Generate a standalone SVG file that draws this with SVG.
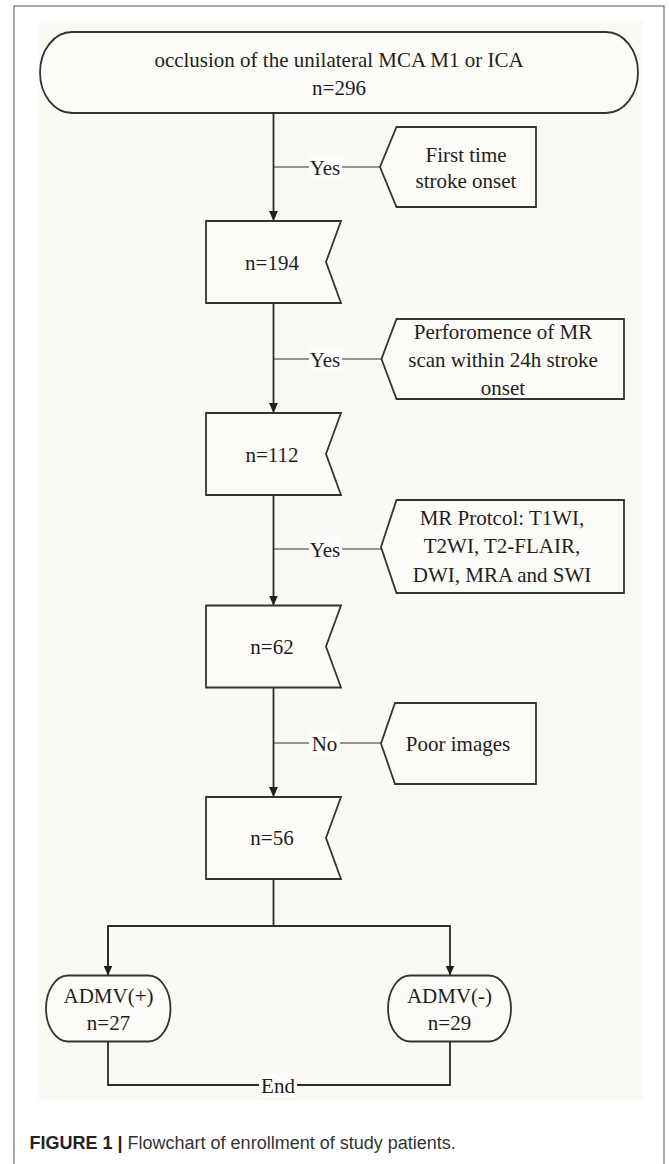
<svg xmlns="http://www.w3.org/2000/svg" width="669" height="1164" viewBox="0 0 669 1164">
<style>
.node{fill:#fcfbf7;stroke:#333;stroke-width:1.8}
.t{font-family:"Liberation Serif","Times New Roman",serif;font-size:21px;fill:#1e1e1e;text-anchor:middle}
.edge{fill:none;stroke:#2a2a2a;stroke-width:1.8}
.thin{fill:none;stroke:#333;stroke-width:1.2}
.lbg{fill:#fdfcfa}
.cap{font-family:"Liberation Sans",Arial,sans-serif;font-size:18px;fill:#333}
</style>
<defs>
<marker id="arr" markerUnits="userSpaceOnUse" markerWidth="10" markerHeight="10" refX="10" refY="4.5" orient="auto">
<path d="M0,0 L10,4.5 L0,9 z" fill="#1e1e1e"/>
</marker>
</defs>
<rect x="0" y="0" width="669" height="1164" fill="#ffffff"/>
<rect x="14" y="6" width="650" height="1180" fill="#ffffff" stroke="#7a7a7a" stroke-width="1.3"/>
<rect x="38.5" y="20.5" width="604" height="1080" fill="#fbf9f4"/>

<g id="connectors">
<line class="edge" x1="273.5" y1="113" x2="273.5" y2="221" marker-end="url(#arr)"/>
<line class="edge" x1="273.5" y1="303" x2="273.5" y2="413" marker-end="url(#arr)"/>
<line class="edge" x1="273.5" y1="495" x2="273.5" y2="605.5" marker-end="url(#arr)"/>
<line class="edge" x1="273.5" y1="687" x2="273.5" y2="797" marker-end="url(#arr)"/>
<polyline class="edge" points="273.5,879 273.5,926"/>
<polyline class="edge" points="108,975.5 108,926 450,926 450,975.5" marker-end="url(#arr)"/>
<polyline class="edge" points="108,926 108,975.5" marker-end="url(#arr)"/>
<polyline class="edge" points="108,1041.5 108,1085 450,1085 450,1041.5"/>
<line class="thin" x1="274" y1="167" x2="380" y2="167"/>
<line class="thin" x1="274" y1="359" x2="381.5" y2="359"/>
<line class="thin" x1="274" y1="549" x2="381" y2="549"/>
<line class="thin" x1="274" y1="743" x2="381" y2="743"/>
<rect class="lbg" x="309" y="155" width="33" height="24"/>
<text class="t" x="325" y="174.5">Yes</text>
<rect class="lbg" x="309" y="347" width="33" height="24"/>
<text class="t" x="325" y="366.5">Yes</text>
<rect class="lbg" x="309" y="537" width="33" height="24"/>
<text class="t" x="325" y="556.5">Yes</text>
<rect class="lbg" x="309" y="731" width="31" height="24"/>
<text class="t" x="324.5" y="750.5">No</text>
<rect class="lbg" x="259" y="1073" width="38" height="24"/>
<text class="t" x="278" y="1092.5">End</text>
</g>

<g id="start">
<rect class="node" x="40" y="32" width="598" height="81" rx="32" ry="40.5"/>
<text class="t" x="339" y="67">occlusion of the unilateral MCA M1 or ICA</text>
<text class="t" x="339" y="95">n=296</text>
</g>

<g id="c1">
<path class="node" d="M396.5,127 L536,127 L536,207 L396.5,207 L380,167 Z"/>
<text class="t" x="466" y="162">First time</text>
<text class="t" x="466" y="188">stroke onset</text>
</g>

<g id="n194">
<path class="node" d="M206,221 L341,221 L326,262 L341,303 L206,303 Z"/>
<text class="t" x="272" y="269.5">n=194</text>
</g>

<g id="c2">
<path class="node" d="M396.5,319 L624,319 L624,399 L396.5,399 L381.5,359 Z"/>
<text class="t" x="503" y="338.5">Perforomence of MR</text>
<text class="t" x="503" y="366.5">scan within 24h stroke</text>
<text class="t" x="503" y="394.5">onset</text>
</g>

<g id="n112">
<path class="node" d="M206,413 L341,413 L326,454 L341,495 L206,495 Z"/>
<text class="t" x="272" y="461.5">n=112</text>
</g>

<g id="c3">
<path class="node" d="M396.5,500 L624,500 L624,593 L396.5,593 L381,547 Z"/>
<text class="t" x="502" y="525">MR Protcol: T1WI,</text>
<text class="t" x="502" y="553">T2WI, T2-FLAIR,</text>
<text class="t" x="502" y="581.5">DWI, MRA and SWI</text>
</g>

<g id="n62">
<path class="node" d="M206,605.5 L341,605.5 L326,646.5 L341,687.5 L206,687.5 Z"/>
<text class="t" x="272" y="653.5">n=62</text>
</g>

<g id="c4">
<path class="node" d="M395,703 L536,703 L536,784 L395,784 L381,743.5 Z"/>
<text class="t" x="458" y="751">Poor images</text>
</g>

<g id="n56">
<path class="node" d="M206,797 L341,797 L326,838 L341,879 L206,879 Z"/>
<text class="t" x="272" y="845">n=56</text>
</g>

<g id="pos">
<rect class="node" x="46" y="975.5" width="124.5" height="66" rx="22" ry="33"/>
<text class="t" x="108.5" y="1003">ADMV(+)</text>
<text class="t" x="108.5" y="1030">n=27</text>
</g>

<g id="neg">
<rect class="node" x="388" y="975.5" width="123" height="66" rx="22" ry="33"/>
<text class="t" x="449.5" y="1003">ADMV(-)</text>
<text class="t" x="449.5" y="1030">n=29</text>
</g>

<text class="cap" x="29.5" y="1149"><tspan font-weight="bold" fill="#222">FIGURE 1</tspan> <tspan font-weight="bold" fill="#222">|</tspan> Flowchart of enrollment of study patients.</text>
</svg>
